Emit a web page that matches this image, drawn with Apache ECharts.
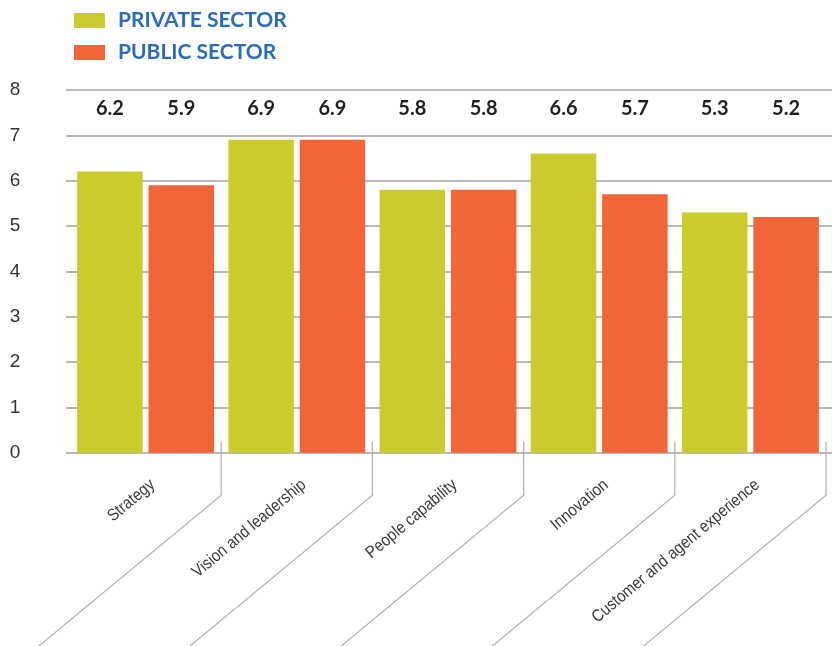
<!DOCTYPE html>
<html>
<head>
<meta charset="utf-8">
<script src="https://cdn.jsdelivr.net/npm/echarts@6/dist/echarts.min.js"></script>
<style>
  html, body { margin: 0; padding: 0; background: #fff; }
  #chart { width: 832px; height: 646px; }
</style>
</head>
<body>
<div id="chart"></div>
<script>
// Scores by dimension, private vs public sector
const categories = ['Strategy', 'Vision and leadership', 'People capability', 'Innovation', 'Customer and agent experience'];
const seriesNames = ['PRIVATE SECTOR', 'PUBLIC SECTOR'];
const privateSector = [6.2, 6.9, 5.8, 6.6, 5.3];
const publicSector = [5.9, 6.9, 5.8, 5.7, 5.2];
const yMin = 0, yMax = 8, yStep = 1;
// value level where the row of score numbers sits
const labelLevel = 7.6;

const colors = ['#c9cc2c', '#f26539'];
const values = [privateSector, publicSector];

const chart = echarts.init(document.getElementById('chart'), null, { renderer: 'canvas' });

// place every score at the same height, derived from the bar's own scale
function rowLayout(params) {
  const v = values[params.seriesIndex][params.dataIndex];
  const r = params.rect;
  const zero = r.y + r.height;
  const perUnit = r.height / v;
  return {
    x: r.x + r.width / 2,
    y: zero - labelLevel * perUnit,
    align: 'center',
    verticalAlign: 'middle'
  };
}

const valueLabel = {
  show: true,
  position: 'top',
  color: '#231f20',
  fontFamily: 'Lato, "Liberation Sans", sans-serif',
  fontWeight: 'bold',
  fontSize: 20,
  formatter: p => p.value.toFixed(1)
};

const labelAngle = 40 * Math.PI / 180;

chart.setOption({
  animation: false,
  legend: {
    orient: 'vertical',
    left: 69,
    top: 5,
    itemWidth: 31,
    itemHeight: 15,
    itemGap: 11,
    icon: 'rect',
    data: seriesNames,
    textStyle: {
      color: '#2d6cb5',
      fontFamily: 'Lato, "Liberation Sans", sans-serif',
      fontWeight: 'bold',
      fontSize: 21,
      lineHeight: 20,
      padding: [0, 0, 0, 8]
    }
  },
  grid: [
    { left: 66, right: 0, top: 90, bottom: 193.3 },
    { left: 70, right: 6, top: 90, bottom: 193.3 }
  ],
  xAxis: [
    { gridIndex: 0, type: 'category', data: categories, show: false },
    {
      gridIndex: 1, type: 'category', data: categories,
      axisLine: { show: false },
      axisTick: { show: false },
      axisLabel: { show: false }
    }
  ],
  yAxis: [
    {
      gridIndex: 0, type: 'value', min: yMin, max: yMax, interval: yStep,
      axisLine: { show: false },
      axisTick: { show: false },
      axisLabel: {
        color: '#333',
        fontFamily: '"Liberation Sans", Arial, sans-serif',
        fontSize: 19,
        align: 'center',
        margin: 51
      },
      splitLine: { show: true, showMinLine: true, showMaxLine: true, lineStyle: { color: '#b8b8b8', width: 2 } }
    },
    {
      gridIndex: 1, type: 'value', min: yMin, max: yMax, interval: yStep,
      show: false, splitLine: { show: false }
    }
  ],
  series: [
    {
      name: seriesNames[0], type: 'bar', xAxisIndex: 1, yAxisIndex: 1,
      data: privateSector, barWidth: 65.5, barGap: '9%',
      itemStyle: { color: colors[0] },
      label: valueLabel, labelLayout: rowLayout
    },
    {
      name: seriesNames[1], type: 'bar', xAxisIndex: 1, yAxisIndex: 1,
      data: publicSector, barWidth: 65.5, barGap: '9%',
      itemStyle: { color: colors[1] },
      label: valueLabel, labelLayout: rowLayout
    },
    {
      // slanted category names with leader lines between them
      name: 'categoryLabels', type: 'custom', xAxisIndex: 1, yAxisIndex: 1,
      silent: true, z: 1,
      data: categories.map((c, i) => [i, 0]),
      renderItem: function (params, api) {
        const idx = api.value(0);
        const p = api.coord([idx, 0]);
        const band = api.size([1, 0])[0];
        const cx = p[0];
        const x = cx + band / 2;
        const y0 = p[1];
        const yKnee = y0 + 42.6;
        const k = 2;
        return {
          type: 'group',
          children: [
            {
              type: 'polyline',
              shape: { points: [[x, y0 - 11], [x, yKnee], [x - 182.4 * k, yKnee + 150.7 * k]] },
              style: { stroke: '#b0b0b0', lineWidth: 1.2, fill: null }
            },
            {
              type: 'text',
              x: cx + 7,
              y: y0 + 30,
              rotation: labelAngle,
              scaleX: 0.88,
              style: {
                text: categories[idx],
                align: 'right',
                verticalAlign: 'middle',
                fill: '#3a3a3a',
                fontFamily: '"Liberation Sans", Arial, sans-serif',
                fontSize: 17
              }
            }
          ]
        };
      }
    }
  ]
});
</script>
</body>
</html>
